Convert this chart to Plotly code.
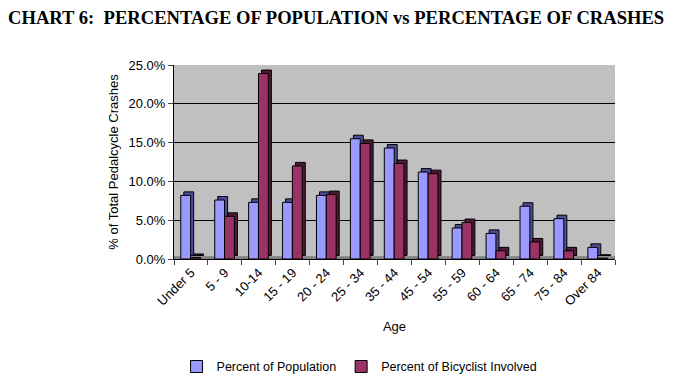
import plotly.graph_objects as go

categories = ["Under 5", "5 - 9", "10-14", "15 - 19", "20 - 24", "25 - 34", "35 - 44",
              "45 - 54", "55 - 59", "60 - 64", "65 - 74", "75 - 84", "Over 84"]
population = [8.2, 7.6, 7.3, 7.3, 8.2, 15.5, 14.3, 11.2, 4.0, 3.3, 6.8, 5.2, 1.5]
bicyclist = [0.2, 5.5, 23.9, 12.0, 8.3, 14.9, 12.3, 11.0, 4.7, 1.05, 2.2, 1.05, 0.1]
y_ticks = [0, 5, 10, 15, 20, 25]

BW = 0.29      # bar width in category units
DX = 0.09      # depth offset (category units)
DY = 0.45      # depth offset (percent units)

fig = go.Figure()
series = [
    ("Percent of Population", population, "#9999ff", "#4d4d99", -0.30),
    ("Percent of Bicyclist Involved", bicyclist, "#993366", "#4d1a33", -0.01),
]
for name, vals, col, dark, off in series:
    fig.add_bar(x=categories, y=vals, base=DY, offset=off + DX, width=BW,
                marker=dict(color=dark, line=dict(color="black", width=1)),
                showlegend=False, hoverinfo="skip")
    fig.add_bar(x=categories, y=vals, offset=off, width=BW, name=name,
                marker=dict(color=col, line=dict(color="black", width=1)))

# page body has an 8px margin, so the figure is sized to the visible area
fig.update_layout(
    width=680, height=370,
    margin=dict(l=166, r=73, t=57, b=119),
    paper_bgcolor="white", plot_bgcolor="#c0c0c0",
    barmode="overlay",
    font=dict(family="Liberation Sans, Arial", size=13, color="black"),
    title=dict(text="<b>CHART 6:  PERCENTAGE OF POPULATION vs PERCENTAGE OF CRASHES</b>",
               font=dict(family="Liberation Serif, Times New Roman", size=18.6, color="black"),
               x=0.0, xanchor="left", y=1.0, yanchor="top", pad=dict(t=3, b=0, l=0, r=0)),
    showlegend=True,
    legend=dict(orientation="h", xref="container", yref="container",
                x=0.517, xanchor="center", y=0.03, yanchor="middle",
                font=dict(size=12.5), itemwidth=30, traceorder="normal"),
    shapes=[dict(type="rect", xref="paper", yref="y", x0=0, x1=1, y0=0, y1=0.35,
                 fillcolor="#808080", line=dict(width=0), layer="below")],
)
fig.update_xaxes(
    title=dict(text="Age", font=dict(size=13), standoff=14),
    tickangle=-45, ticks="outside", tickson="boundaries", ticklen=5,
    showline=True, linecolor="black", linewidth=1, tickfont=dict(size=13),
)
fig.update_yaxes(
    title=dict(text="% of Total Pedalcycle Crashes", font=dict(size=13), standoff=6),
    range=[0, 25], tickvals=y_ticks, ticktext=[f"{v:.1f}%" for v in y_ticks],
    ticks="outside", ticklen=5, showline=True, linecolor="black", linewidth=1,
    showgrid=True, gridcolor="black", gridwidth=1, zeroline=False,
    tickfont=dict(size=13),
)

fig.write_html("out.html")
